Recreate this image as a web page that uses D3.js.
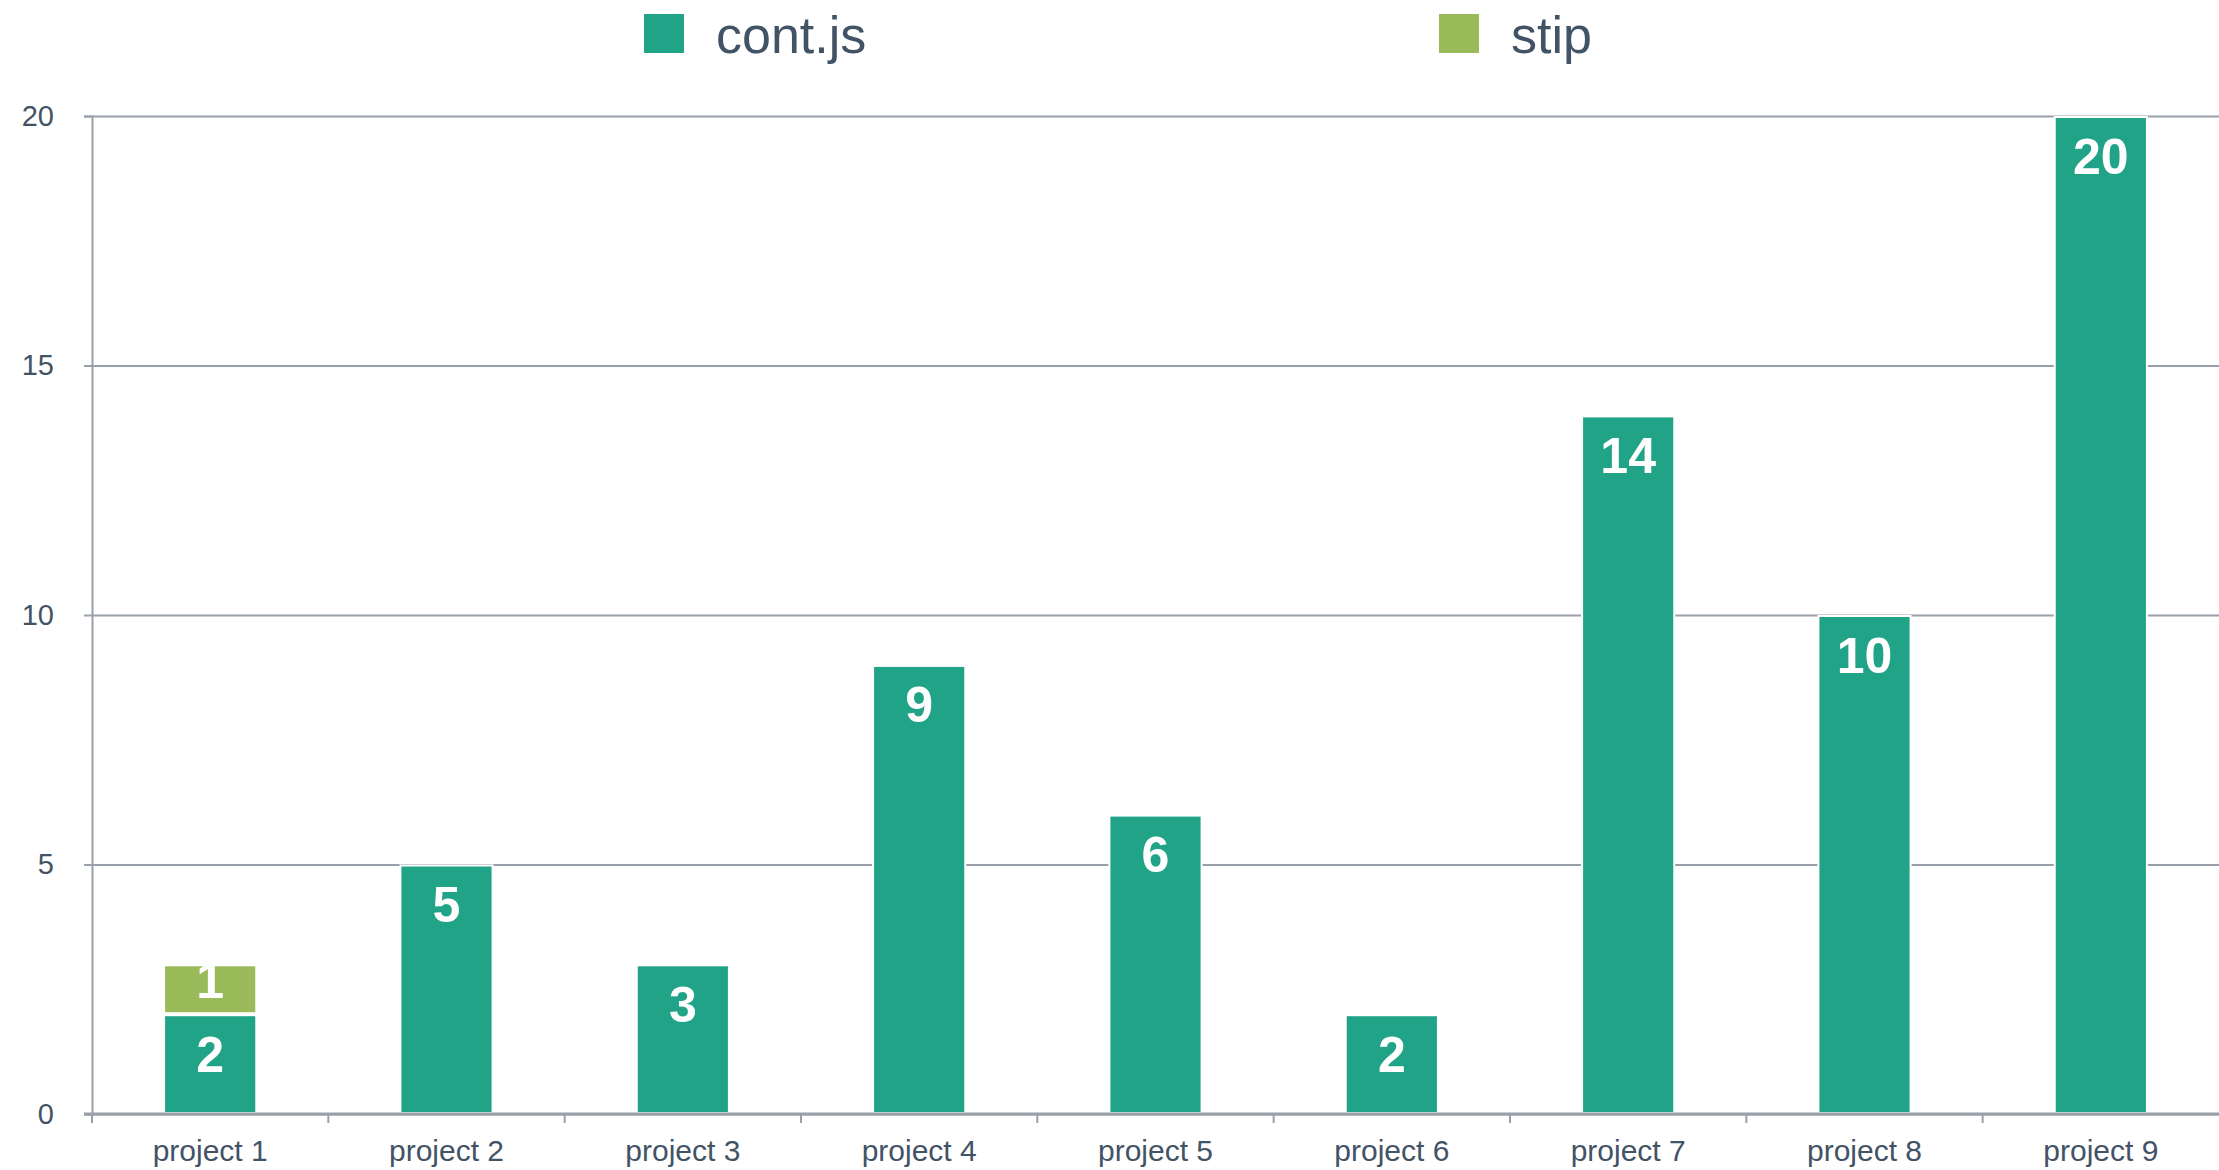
<!DOCTYPE html>
<html>
<head>
<meta charset="utf-8">
<script src="https://cdn.jsdelivr.net/npm/d3@7"></script>
<style>
  body { margin: 0; background: #fff; }
  svg { display: block; font-family: "Liberation Sans", Arial, sans-serif; }
</style>
</head>
<body>
<svg width="2219" height="1170"></svg>
<script>
var categories = ["project 1", "project 2", "project 3", "project 4", "project 5",
                  "project 6", "project 7", "project 8", "project 9"];
var contjs = [2, 5, 3, 9, 6, 2, 14, 10, 20];
var stip = [1, 0, 0, 0, 0, 0, 0, 0, 0];
var seriesNames = ["cont.js", "stip"];
var colors = ["#20a386", "#9bbb5b"];
var yTicks = [0, 5, 10, 15, 20];

var svg = d3.select("svg"),
    width = +svg.attr("width"),
    height = +svg.attr("height");

var margin = {top: 116, right: 0, bottom: 56, left: 92};
var innerW = width - margin.left - margin.right,
    innerH = height - margin.top - margin.bottom;

var textColor = "#435366",
    gridColor = "#9aa0aa";

var g = svg.append("g").attr("transform", "translate(" + margin.left + "," + margin.top + ")");

var x = d3.scaleBand().domain(categories).range([0, innerW]).padding(0);
var y = d3.scaleLinear().domain([0, 20]).range([innerH, 0]);

// rows for stacking
var rows = categories.map(function(c, i) { return {cat: c, "cont.js": contjs[i], "stip": stip[i]}; });
var stacked = d3.stack().keys(seriesNames)(rows);

// gridlines
g.append("g")
    .call(d3.axisLeft(y).tickValues(yTicks).tickSize(-innerW).tickFormat(""))
    .call(function(s) {
      s.select(".domain").remove();
      s.selectAll("line").attr("stroke", gridColor).attr("stroke-width", 2);
    });

// y axis
g.append("g")
    .call(d3.axisLeft(y).tickValues(yTicks).tickSize(8).tickPadding(30))
    .call(function(s) {
      s.select(".domain").attr("stroke", gridColor).attr("stroke-width", 2);
      s.selectAll("line").attr("stroke", gridColor).attr("stroke-width", 2);
      s.selectAll("text").attr("fill", textColor).style("font-size", "29px");
    });

// bars
var barW = x.bandwidth() * 0.39;
var layer = g.selectAll(".layer")
    .data(stacked)
    .enter().append("g")
    .attr("class", "layer")
    .attr("fill", function(d, i) { return colors[i]; });

layer.selectAll("rect")
    .data(function(d) { return d.filter(function(p) { return p[1] - p[0] > 0; }); })
    .enter().append("rect")
    .attr("x", function(d) { return x(d.data.cat) + (x.bandwidth() - barW) / 2; })
    .attr("y", function(d) { return y(d[1]) + 1; })
    .attr("width", barW)
    .attr("height", function(d) { return y(d[0]) - y(d[1]) - 2; })
    .attr("stroke", "#fff")
    .attr("stroke-width", 2);

// value labels
layer.selectAll("text")
    .data(function(d) { return d.filter(function(p) { return p[1] - p[0] > 0; }); })
    .enter().append("text")
    .attr("x", function(d) { return x(d.data.cat) + x.bandwidth() / 2; })
    .attr("y", function(d) {
      var top = y(d[1]), h = y(d[0]) - top;
      return top + Math.min(40, h / 2 - 9);
    })
    .attr("dy", "0.35em")
    .attr("text-anchor", "middle")
    .attr("fill", "#fff")
    .style("font-size", "50px")
    .style("font-weight", "bold")
    .text(function(d) { return d[1] - d[0]; });

// x axis
var xAxis = g.append("g").attr("transform", "translate(0," + innerH + ")");
xAxis.append("line")
    .attr("x1", -8).attr("x2", innerW)
    .attr("stroke", gridColor).attr("stroke-width", 3);
xAxis.selectAll(".tk")
    .data(categories)
    .enter().append("line")
    .attr("class", "tk")
    .attr("x1", function(d) { return x(d); })
    .attr("x2", function(d) { return x(d); })
    .attr("y1", 0).attr("y2", 9)
    .attr("stroke", gridColor).attr("stroke-width", 2);
xAxis.selectAll(".lbl")
    .data(categories)
    .enter().append("text")
    .attr("class", "lbl")
    .attr("x", function(d) { return x(d) + x.bandwidth() / 2; })
    .attr("y", 36)
    .attr("dy", "0.35em")
    .attr("text-anchor", "middle")
    .attr("fill", textColor)
    .style("font-size", "30px")
    .text(function(d) { return d; });

// legend
var legendX = [644, 1439];
var legend = svg.selectAll(".legend")
    .data(seriesNames)
    .enter().append("g")
    .attr("class", "legend")
    .attr("transform", function(d, i) { return "translate(" + legendX[i] + ",0)"; });
legend.append("rect")
    .attr("x", 0).attr("y", 14)
    .attr("width", 40).attr("height", 39)
    .attr("fill", function(d, i) { return colors[i]; });
legend.append("text")
    .attr("x", 72).attr("y", 35)
    .attr("dy", "0.35em")
    .attr("fill", textColor)
    .style("font-size", "52px")
    .text(function(d) { return d; });
</script>
</body>
</html>
